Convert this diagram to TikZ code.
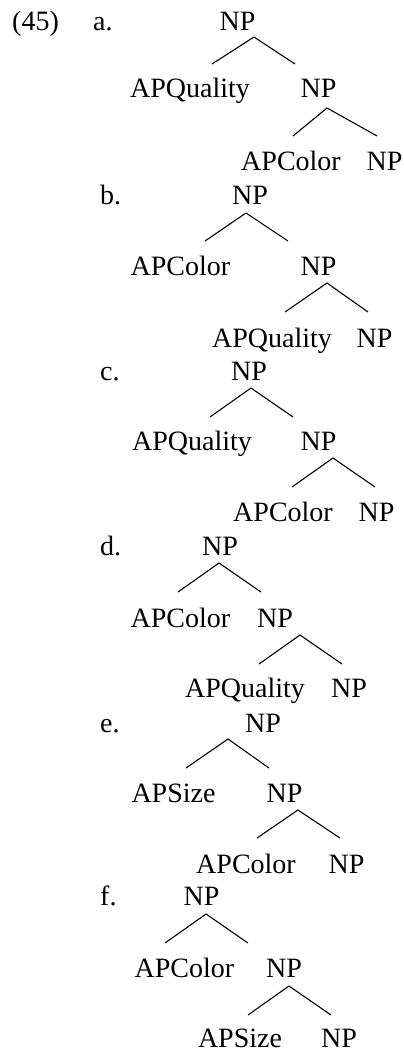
\documentclass[tikz,border=0pt]{standalone}
\usepackage{fontspec}
\setmainfont{Liberation Serif}
\begin{document}
\begin{tikzpicture}[x=1pt,y=-1pt,
  lab/.style={inner sep=0pt,anchor=base,font=\fontsize{28}{34}\selectfont},
  num/.style={lab,anchor=base west},
  edge/.style={line width=1.1pt}]
\useasboundingbox (0,0) rectangle (404,1052);

% (45a)
\node[num] (ex) at (12,30) {(45)};
\node[num] (la) at (93,30) {a.};
\node[lab] (a0) at (237.5,30) {NP};
\node[lab] (a1) at (190,97) {APQuality};
\node[lab] (a2) at (318.5,97) {NP};
\node[lab] (a3) at (291,170) {APColor};
\node[lab] (a4) at (384.5,170) {NP};
\coordinate (a0b) at (254,37);
\coordinate (a1t) at (212,64);
\coordinate (a2t) at (295,64);
\coordinate (a2b) at (327,108);
\coordinate (a3t) at (293,136);
\coordinate (a4t) at (377,136);
\draw[edge] (a1t) -- (a0b) -- (a2t);
\draw[edge] (a3t) -- (a2b) -- (a4t);

% (45b)
\node[num] (lb) at (100,204) {b.};
\node[lab] (b0) at (250,204) {NP};
\node[lab] (b1) at (180.5,275) {APColor};
\node[lab] (b2) at (318.5,275) {NP};
\node[lab] (b3) at (272,347) {APQuality};
\node[lab] (b4) at (374.5,347) {NP};
\coordinate (b0b) at (246,213);
\coordinate (b1t) at (205,241);
\coordinate (b2t) at (288,241);
\coordinate (b2b) at (327,283);
\coordinate (b3t) at (285,312);
\coordinate (b4t) at (368,312);
\draw[edge] (b1t) -- (b0b) -- (b2t);
\draw[edge] (b3t) -- (b2b) -- (b4t);

% (45c)
\node[num] (lc) at (100,380) {c.};
\node[lab] (c0) at (249,380) {NP};
\node[lab] (c1) at (192,450) {APQuality};
\node[lab] (c2) at (318.5,450) {NP};
\node[lab] (c3) at (283,521) {APColor};
\node[lab] (c4) at (376.5,521) {NP};
\coordinate (c0b) at (251,388);
\coordinate (c1t) at (210,417);
\coordinate (c2t) at (293,417);
\coordinate (c2b) at (333,458);
\coordinate (c3t) at (292,487);
\coordinate (c4t) at (375,487);
\draw[edge] (c1t) -- (c0b) -- (c2t);
\draw[edge] (c3t) -- (c2b) -- (c4t);

% (45d)
\node[num] (ld) at (100,555) {d.};
\node[lab] (d0) at (220,555) {NP};
\node[lab] (d1) at (180.5,627) {APColor};
\node[lab] (d2) at (275,627) {NP};
\node[lab] (d3) at (245,697) {APQuality};
\node[lab] (d4) at (349,697) {NP};
\coordinate (d0b) at (219,563);
\coordinate (d1t) at (178,592);
\coordinate (d2t) at (261,592);
\coordinate (d2b) at (300,635);
\coordinate (d3t) at (259,664);
\coordinate (d4t) at (342,664);
\draw[edge] (d1t) -- (d0b) -- (d2t);
\draw[edge] (d3t) -- (d2b) -- (d4t);

% (45e)
\node[num] (le) at (100,732) {e.};
\node[lab] (e0) at (263,732) {NP};
\node[lab] (e1) at (173.5,802) {APSize};
\node[lab] (e2) at (284.5,802) {NP};
\node[lab] (e3) at (246,873) {APColor};
\node[lab] (e4) at (346.5,873) {NP};
\coordinate (e0b) at (228,739);
\coordinate (e1t) at (186,768);
\coordinate (e2t) at (269,768);
\coordinate (e2b) at (298,810);
\coordinate (e3t) at (257,838);
\coordinate (e4t) at (340,838);
\draw[edge] (e1t) -- (e0b) -- (e2t);
\draw[edge] (e3t) -- (e2b) -- (e4t);

% (45f)
\node[num] (lf) at (100,905) {f.};
\node[lab] (f0) at (201.5,905) {NP};
\node[lab] (f1) at (184.5,977) {APColor};
\node[lab] (f2) at (284,977) {NP};
\node[lab] (f3) at (240,1047) {APSize};
\node[lab] (f4) at (339,1047) {NP};
\coordinate (f0b) at (206,914);
\coordinate (f1t) at (165,943);
\coordinate (f2t) at (248,943);
\coordinate (f2b) at (289,986);
\coordinate (f3t) at (248,1015);
\coordinate (f4t) at (331,1015);
\draw[edge] (f1t) -- (f0b) -- (f2t);
\draw[edge] (f3t) -- (f2b) -- (f4t);
\end{tikzpicture}
\end{document}
